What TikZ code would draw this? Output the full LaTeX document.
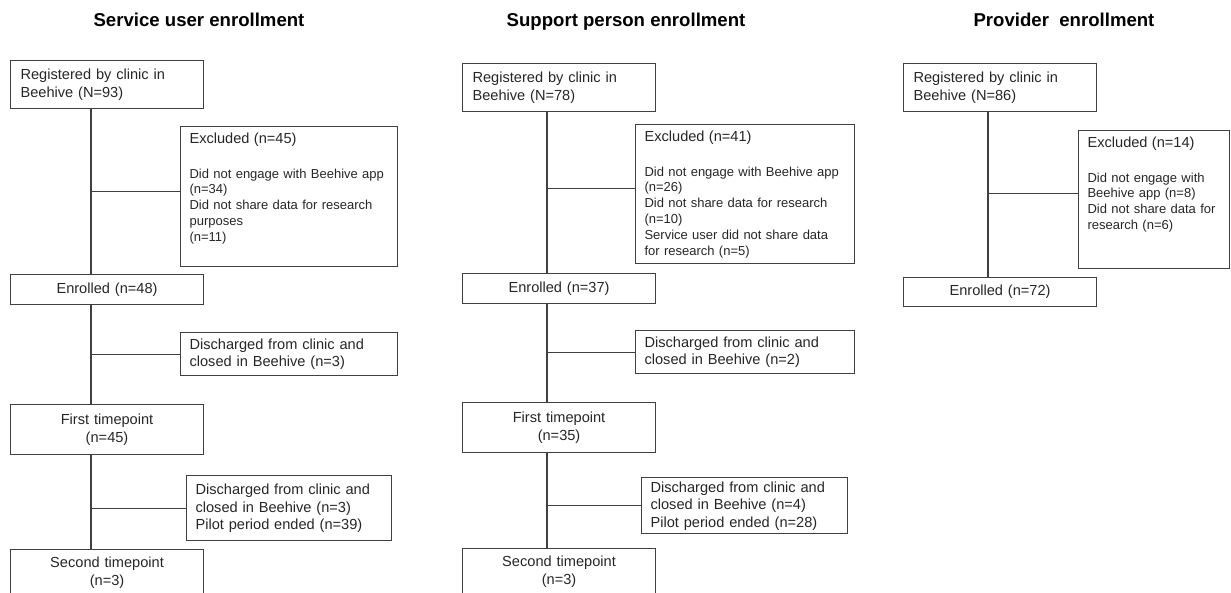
\documentclass[tikz,border=0pt]{standalone}
\usepackage{fontspec}
\setmainfont{Liberation Sans}
\usetikzlibrary{positioning}

\newcommand{\bhTitle}{\fontsize{18.6}{22}\selectfont\bfseries}
\newcommand{\bhMain}{\fontsize{14.6}{17.5}\selectfont}
\newcommand{\bhDetail}{\fontsize{13}{15.8}\selectfont}

\begin{document}
\begin{tikzpicture}[x=1pt, y=1pt, node distance=20pt and 20pt]
\tikzset{
    titleStyle/.style={font=\bhTitle, text=black, anchor=base},
    boxStyle/.style={rectangle, draw=black!75, line width=1.1pt, text=black!85, inner xsep=10pt, inner ysep=4pt, font=\bhMain},
    regStyle/.style={boxStyle, text width=173pt, align=left, minimum height=48pt},
    mainStyle/.style={boxStyle, text width=173pt, align=center},
    sideStyle/.style={boxStyle, inner xsep=9pt, align=left},
    exclStyle/.style={sideStyle, inner ysep=6pt, font=\bhDetail},
    trunkLine/.style={draw=black!75, line width=1.1pt}
}

\useasboundingbox (0,0) rectangle (1231,-593);

\node[titleStyle] (title1) at (199,-26.5) {Service user enrollment};
\node[titleStyle] (title2) at (626,-26.5) {Support person enrollment};
\node[titleStyle] (title3) at (1064,-26.5) {Provider\ \ enrollment};


\node[regStyle, anchor=north west] (reg1) at (10,-60) {Registered by clinic in\\Beehive (N=93)};
\node[exclStyle, text width=199pt, text depth=117pt, below=17pt of reg1, xshift=182pt] (excl1) {{\bhMain Excluded (n=45)}\\[19pt]Did not engage with Beehive app\\(n=34)\\Did not share data for research\\purposes\\(n=11)};
\node[mainStyle, minimum height=30pt, below=165pt of reg1] (enr1) {Enrolled (n=48)};
\node[sideStyle, text width=199pt, minimum height=43pt, below=27pt of enr1, xshift=182pt] (dis1a) {Discharged from clinic and\\closed in Beehive (n=3)};
\node[mainStyle, minimum height=50pt, below=99pt of enr1] (tp1) {First timepoint\\(n=45)};
\node[sideStyle, text width=187pt, minimum height=65pt, below=20pt of tp1, xshift=182pt] (dis1b) {Discharged from clinic and\\closed in Beehive (n=3)\\Pilot period ended (n=39)};
\node[mainStyle, minimum height=46pt, below=94pt of tp1] (sec1) {Second timepoint\\(n=3)};


\node[regStyle, anchor=north west] (reg2) at (462,-63) {Registered by clinic in\\Beehive (N=78)};
\node[exclStyle, text width=201pt, below=12pt of reg2, xshift=186pt] (excl2) {{\bhMain Excluded (n=41)}\\[19pt]Did not engage with Beehive app\\(n=26)\\Did not share data for research\\(n=10)\\Service user did not share data\\for research (n=5)};
\node[mainStyle, minimum height=30pt, below=161pt of reg2] (enr2) {Enrolled (n=37)};
\node[sideStyle, text width=201pt, minimum height=43pt, below=26pt of enr2, xshift=186pt] (dis2a) {Discharged from clinic and\\closed in Beehive (n=2)};
\node[mainStyle, minimum height=50pt, below=98pt of enr2] (tp2) {First timepoint\\(n=35)};
\node[sideStyle, text width=188pt, minimum height=56pt, inner ysep=2pt, below=24pt of tp2, xshift=185.5pt] (dis2b) {Discharged from clinic and\\closed in Beehive (n=4)\\Pilot period ended (n=28)};
\node[mainStyle, minimum height=46pt, below=95pt of tp2] (sec2) {Second timepoint\\(n=3)};


\node[regStyle, anchor=north west] (reg3) at (903,-63) {Registered by clinic in\\Beehive (N=86)};
\node[exclStyle, text width=133pt, text depth=115pt, below=18pt of reg3, xshift=154pt] (excl3) {{\bhMain Excluded (n=14)}\\[19pt]Did not engage with\\Beehive app (n=8)\\Did not share data for\\research (n=6)};
\node[mainStyle, minimum height=29pt, below=165pt of reg3] (enr3) {Enrolled (n=72)};


\coordinate (trunk1) at (91,0);
\coordinate (trunk2) at (547,0);
\coordinate (trunk3) at (988,0);

\draw[trunkLine] (reg1.south -| trunk1) -- (enr1.north -| trunk1);
\draw[trunkLine] (enr1.south -| trunk1) -- (tp1.north -| trunk1);
\draw[trunkLine] (tp1.south -| trunk1) -- (sec1.north -| trunk1);
\draw[trunkLine] ([yshift=5pt]excl1.west -| trunk1) -- ([yshift=5pt]excl1.west);
\draw[trunkLine] (dis1a.west -| trunk1) -- (dis1a.west);
\draw[trunkLine] (dis1b.west -| trunk1) -- (dis1b.west);

\draw[trunkLine] (reg2.south -| trunk2) -- (enr2.north -| trunk2);
\draw[trunkLine] (enr2.south -| trunk2) -- (tp2.north -| trunk2);
\draw[trunkLine] (tp2.south -| trunk2) -- (sec2.north -| trunk2);
\draw[trunkLine] ([yshift=6pt]excl2.west -| trunk2) -- ([yshift=6pt]excl2.west);
\draw[trunkLine] (dis2a.west -| trunk2) -- (dis2a.west);
\draw[trunkLine] (dis2b.west -| trunk2) -- (dis2b.west);

\draw[trunkLine] (reg3.south -| trunk3) -- (enr3.north -| trunk3);
\draw[trunkLine] ([yshift=6pt]excl3.west -| trunk3) -- ([yshift=6pt]excl3.west);


\end{tikzpicture}
\end{document}
